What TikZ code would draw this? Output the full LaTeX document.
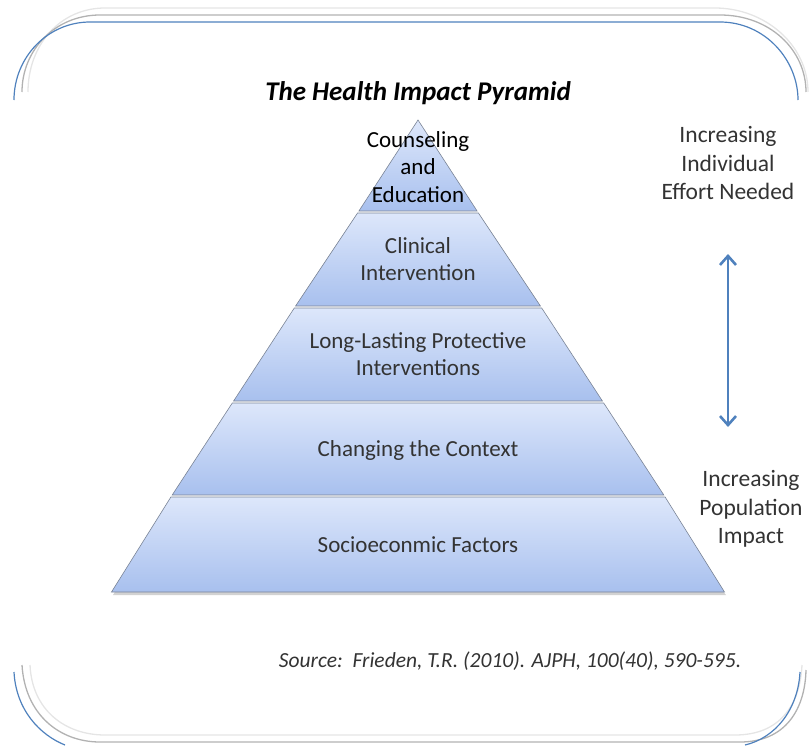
\documentclass[tikz,border=0pt]{standalone}
\usepackage{fontspec}
\setmainfont{Carlito}
\usetikzlibrary{arrows.meta}
\definecolor{frameblue}{HTML}{4F81BD}
\definecolor{layertop}{HTML}{DDE7FB}
\definecolor{layerbot}{HTML}{A8C0EE}
\definecolor{layeredge}{HTML}{7A8496}
\definecolor{txt}{HTML}{333333}
\tikzset{
  layertext/.style={text=txt, font=\fontsize{23}{27.5}\selectfont, align=center, inner sep=0pt},
  sidetext/.style={text=txt, font=\fontsize{23.5}{28.5}\selectfont, align=center, inner sep=0pt},
  bluecurve/.style={draw=frameblue, line width=1.2pt},
  graycurve/.style={draw=black!30, line width=1.3pt},
  lightcurve/.style={draw=black!10, line width=1.3pt},
  layerfill/.style={top color=layertop, bottom color=layerbot, draw=layeredge, line width=0.6pt},
  bigarrow/.style={draw=frameblue, line width=2.6pt, {Straight Barb[length=9pt,width=16pt]}-{Straight Barb[length=9pt,width=16pt]}}
}
\begin{document}
\begin{tikzpicture}[x=1pt,y=-1pt]
\useasboundingbox (0,0) rectangle (809,745);
% frame top
\draw[lightcurve] (28,92) .. controls (28,45) and (60,8) .. (105,8) -- (715,8) .. controls (765,8) and (808,45) .. (808,92);
\draw[graycurve] (22,92) .. controls (22,50) and (55,15) .. (100,15) -- (720,15) .. controls (770,15) and (806,50) .. (806,92);
\draw[bluecurve] (14,100) .. controls (14,57) and (48,22) .. (90,22) -- (720,22) .. controls (765,22) and (798,60) .. (798,100);
% frame bottom
\draw[lightcurve] (30,665) .. controls (32,710) and (65,735) .. (105,735) -- (735,735) .. controls (780,735) and (800,705) .. (802,665);
\draw[graycurve] (22,665) .. controls (25,715) and (60,742) .. (100,742) -- (740,742) .. controls (785,742) and (805,710) .. (806,670);
\draw[bluecurve] (14,672) .. controls (16,710) and (40,735) .. (65,745);
\draw[bluecurve] (800,672) .. controls (798,710) and (775,738) .. (745,745);
% title
\node[font=\fontsize{27}{30}\selectfont\bfseries\itshape, inner sep=0pt] (title) at (418,93) {The Health Impact Pyramid};
% pyramid shadow
\fill[black!35, opacity=0.5] (113,595) -- (726,595) -- (722,590) -- (116,590) -- cycle;
% layers (apex 418,120; base half-width 306.5 at y=592)
\shade[layerfill] (418,120) -- (477.1,211) -- (358.9,211) -- cycle;
\shade[layerfill] (478.4,213) -- (540.4,306) -- (295.6,306) -- (357.6,213) -- cycle;
\shade[layerfill] (541.7,308) -- (602.4,401) -- (233.6,401) -- (294.3,308) -- cycle;
\shade[layerfill] (603.7,403) -- (663.8,495) -- (172.2,495) -- (232.3,403) -- cycle;
\shade[layerfill] (665.1,497) -- (724.5,592) -- (111.5,592) -- (170.9,497) -- cycle;
% layer texts
\node[layertext, text=black] (l1) at (418,167) {Counseling\\and\\Education};
\node[layertext] (l2) at (418,259) {Clinical\\Intervention};
\node[layertext] (l3) at (418,354) {Long-Lasting Protective\\Interventions};
\node[layertext] (l4) at (418,450) {Changing the Context};
\node[layertext] (l5) at (418,545) {Socioeconmic Factors};
% side labels
\node[sidetext] (effort) at (728,163) {Increasing\\Individual\\Effort Needed};
\node[sidetext] (impact) at (751,509) {Increasing\\Population\\Impact};
\coordinate (atop) at (728,254);
\coordinate (abot) at (728,427);
\draw[bigarrow] (atop) -- (abot);
% source
\node[text=txt, font=\fontsize{21.5}{24}\selectfont\itshape, inner sep=0pt] (source) at (510,661) {Source:\ \ Frieden, T.R. (2010). AJPH, 100(40), 590-595.};
\end{tikzpicture}
\end{document}
